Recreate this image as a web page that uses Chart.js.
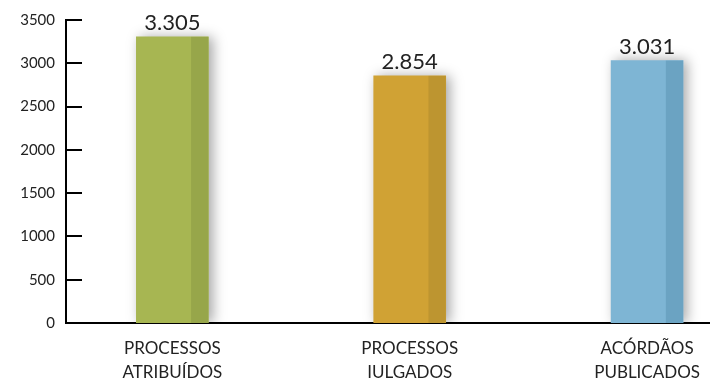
<!DOCTYPE html>
<html>
<head>
<meta charset="utf-8">
<script src="https://cdn.jsdelivr.net/npm/chart.js@4/dist/chart.umd.min.js"></script>
<style>
html,body{margin:0;padding:0;background:#fff;}
#wrap{width:714px;height:380px;}
</style>
</head>
<body>
<div id="wrap"><canvas id="c" width="714" height="380"></canvas></div>
<script>
const categories = [["PROCESSOS","ATRIBUÍDOS"],["PROCESSOS","IULGADOS"],["ACÓRDÃOS","PUBLICADOS"]];
const values = [3305, 2854, 3031];
const valueLabels = ["3.305","2.854","3.031"];
const yTicks = [0,500,1000,1500,2000,2500,3000,3500];
const frontColors = ["#a7b652","#d0a234","#7eb5d4"];
const sideColors = ["#97a64a","#bd9530","#6ba3c2"];

const FONT = "Lato, 'Open Sans', sans-serif";

const barFx = {
  id:'barFx',
  beforeDatasetsDraw(chart){
    const ctx = chart.ctx;
    ctx.save();
    ctx.shadowColor = 'rgba(0,0,0,0.35)';
    ctx.shadowBlur = 12;
    ctx.shadowOffsetX = 4;
    ctx.shadowOffsetY = 0;
  },
  afterDatasetsDraw(chart){
    const ctx = chart.ctx;
    ctx.restore();
    const meta = chart.getDatasetMeta(0);
    meta.data.forEach((bar, i) => {
      const p = bar.getProps(['x','y','base','width'], true);
      const right = p.x + p.width/2;
      const sideW = p.width * 0.24;
      ctx.fillStyle = sideColors[i];
      ctx.fillRect(right - sideW, p.y, sideW, p.base - p.y);
      ctx.fillStyle = '#222';
      ctx.font = "22px " + FONT;
      ctx.textAlign = 'center';
      ctx.textBaseline = 'bottom';
      ctx.fillText(valueLabels[i], p.x, p.y - 3);
    });
    const ys = chart.scales.y;
    const left = chart.chartArea.left;
    ctx.save();
    ctx.strokeStyle = '#000';
    ctx.lineWidth = 2;
    ys.ticks.forEach(t => {
      const py = Math.round(ys.getPixelForValue(t.value));
      ctx.beginPath();
      ctx.moveTo(left, py);
      ctx.lineTo(left + 16, py);
      ctx.stroke();
    });
    ctx.restore();
  }
};

new Chart(document.getElementById('c'), {
  type: 'bar',
  data: {
    datasets: [{
      data: values.map((v,i)=>({x:i, y:v})),
      backgroundColor: frontColors,
      borderWidth: 0,
      barThickness: 72
    }]
  },
  options: {
    responsive: false,
    animation: false,
    devicePixelRatio: 1,
    layout: { padding: { top: 12, right: 0, left: 0, bottom: 0 } },
    plugins: { legend: {display:false}, tooltip: {enabled:false} },
    scales: {
      x: {
        type: 'linear',
        offset: false,
        bounds: 'data',
        min: -0.448,
        max: 2.263,
        afterBuildTicks(scale){ scale.ticks = [0,1,2].map(v=>({value:v})); },
        afterFit(scale){ scale.height = 57; },
        grid: { display:false, drawTicks:false, offset:false },
        border: { display:true, color:'#000', width:2 },
        ticks: {
          callback: (v) => categories[v],
          color:'#222',
          font: { family: FONT, size: 17, lineHeight: '24px' },
          padding: 14,
          maxRotation: 0,
          autoSkip: false
        }
      },
      y: {
        min: 0,
        max: 3500,
        afterBuildTicks(scale){ scale.ticks = yTicks.map(v=>({value:v})); },
        afterFit(scale){ scale.width = 66; },
        grid: { display:false, drawTicks:false },
        border: { display:true, color:'#000', width:2 },
        ticks: {
          callback: (v) => String(v),
          color:'#222',
          font: { family: FONT, size: 15 },
          padding: 11
        }
      }
    }
  },
  plugins: [barFx]
});
</script>
</body>
</html>
